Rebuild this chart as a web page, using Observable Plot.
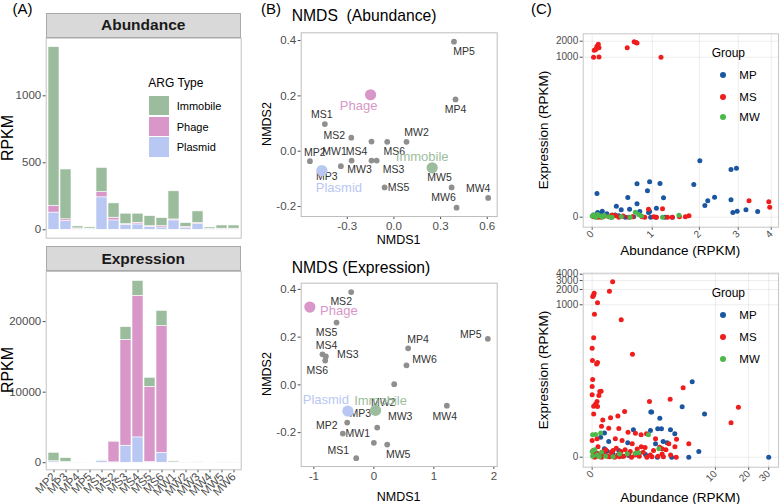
<!DOCTYPE html>
<html>
<head>
<meta charset="utf-8">
<script src="https://cdn.jsdelivr.net/npm/d3@7"></script>
<script src="https://cdn.jsdelivr.net/npm/@observablehq/plot@0.6"></script>
<style>
  body { margin: 0; background: #fff; }
  #fig { position: relative; width: 779px; height: 504px; overflow: hidden; background: #fff;
         font-family: "Liberation Sans", Arial, sans-serif; color: #000; }
  .abs { position: absolute; }
  .tag { font-size: 15px; }
  .strip { background: #d9d9d9; border: 1px solid #a9a9a9; box-sizing: border-box; font-weight: bold;
           font-size: 15.5px; display: flex; align-items: center; justify-content: center; color: #1a1a1a; }
  .vlabel { transform: translate(-50%, -50%) rotate(-90deg); white-space: nowrap; }
  .clabel { transform: translate(-50%, -50%); white-space: nowrap; }
  .llabel { transform: translate(0, -50%); white-space: pre; }
  .key { position: absolute; }
  .dotkey { position: absolute; width: 6px; height: 6px; border-radius: 50%; transform: translate(-50%, -50%); }
</style>
</head>
<body>
<div id="fig"></div>
<script>
// ---------- (A) ARG abundance / expression per sample ----------
const samples = ["MP2","MP3","MP4","MP5","MS1","MS2","MS3","MS4","MS5","MS6","MW1","MW2","MW3","MW4","MW5","MW6"];
const argTypes = ["Immobile","Phage","Plasmid"];
const argColors = ["#9cbd9d","#d896c9","#b9c7f3"];

const abundPlasmid  = [128, 65, 5, 3, 242, 70, 37, 40, 22, 17, 70, 12, 42, 3, 5, 5];
const abundPhage    = [50, 13, 5, 5, 40, 20, 5, 12, 5, 10, 7, 8, 8, 2, 3, 3];
const abundImmobile = [1185, 372, 15, 10, 180, 107, 78, 68, 75, 60, 210, 30, 87, 12, 24, 24];

const exprPlasmid  = [190, 100, 10, 5, 250, 50, 2410, 3590, 100, 1415, 30, 5, 20, 5, 15, 5];
const exprPhage    = [20, 10, 0, 0, 10, 2950, 15010, 20060, 10660, 17935, 5, 0, 5, 0, 5, 0];
const exprImmobile = [1205, 550, 20, 10, 80, 20, 1790, 2120, 1280, 2170, 155, 20, 75, 10, 60, 20];

// ---------- (B) NMDS ordinations ----------
const abundNmds1 = [-0.540, -0.341, 0.396, 0.386, -0.444, -0.274, -0.111, -0.144, -0.060, -0.043, -0.272, 0.081, -0.144, 0.606, 0.371, 0.403];
const abundNmds2 = [-0.036, -0.054, 0.187, 0.396, 0.098, 0.049, -0.034, 0.035, -0.131, 0.034, -0.034, 0.034, -0.034, -0.169, -0.131, -0.204];
const exprNmds1  = [-0.517, -0.444, 0.572, 1.900, -0.294, -0.378, -0.800, -0.856, -0.622, -0.811, 0.000, 0.339, 0.056, 1.217, 0.222, 0.544];
const exprNmds2  = [-0.204, -0.158, 0.153, 0.193, -0.307, 0.389, 0.119, 0.128, 0.261, 0.102, -0.243, 0.003, -0.179, -0.087, -0.250, 0.082];

const centroidAbund1 = [0.246, -0.150, -0.463];   // Immobile, Phage, Plasmid
const centroidAbund2 = [-0.060, 0.204, -0.070];
const centroidExpr1  = [0.028, -1.067, -0.433];
const centroidExpr2  = [-0.107, 0.326, -0.110];

// label nudges in pixels (dx, dy), like a repel layout
const abundNudge = {MP2:[5,-9], MP3:[-14,10], MP4:[0,10], MP5:[10,10], MS1:[-3,-9], MS2:[-17,-2], MS3:[17,9], MS4:[-15,10],
  MS5:[14,0], MS6:[7,10], MW1:[-17,-9], MW2:[10,-9], MW3:[-12,9], MW4:[-10,-9], MW5:[-12,-10], MW6:[-13,-10]};
const exprNudge = {MP2:[-16,-8], MP3:[13,-9], MP4:[10,-9], MP5:[-17,-4], MS1:[-18,-8], MS2:[-10,10], MS3:[22,-2], MS4:[4,-9],
  MS5:[-10,10], MS6:[-8,10], MW1:[-16,-9], MW2:[-11,18], MW3:[23,-11], MW4:[-2,11], MW5:[11,10], MW6:[18,-6]};
const abundCentroidNudge = {Immobile:[-10,-11], Phage:[-12,11], Plasmid:[17,17]};
const exprCentroidNudge  = {Immobile:[5,-10], Phage:[29,4], Plasmid:[-22,-11]};

// ---------- (C) per-gene abundance vs expression (RPKM) ----------
const groups = ["MP","MS","MW"];
const groupColors = ["#1b56a0","#f01d1d","#4cb84a"];

const geneMPsub = [[0.07,1.79],[0.72,3.24],[0.95,3.62],[1.15,3.29],[0.91,2.13],[0.56,1.34],[1.22,1.31],[0.72,0.78],[0.37,0.61],
  [1.87,3.1],[2.01,10.4],[2.13,0.66],[2.2,1.03],[2.37,1.37],[2.8,6.85],[2.95,7.3],[2.8,1.12],[2.85,0.22],[2.97,0.3],[3.22,0.38],
  [3.57,0.28],[0.45,0.38],[0.59,0.41],[0.77,0.28],[0.95,0.28],[1.08,0.48],[0.15,0.3],[0.08,0.22],[0.22,0.16],[0.41,0.06],
  [0.52,0],[0.66,0.02],[0.29,0],[0.05,0.06],[0.97,0],[1.07,0],[1.25,0],[1.4,0],[0.12,0.17],[0.93,0.22],[0.02,0.1],[0.35,0.1]];
const geneMSsub = [[0.02,1000],[0.1,1010],[0.05,1400],[0.07,1600],[0.09,1750],[0.1,1500],[0.03,1350],[0.06,1450],[0.55,1500],
  [0.67,1950],[0.7,1900],[0.72,1850],[1.17,1000],[1.2,0.44],[0.93,0.41],[3.31,1.03],[3.92,0.95],[3.95,0.54],[1.68,0.02],
  [1.76,0.06],[0.12,0],[0.17,0.03],[0.36,0.07],[0.41,0],[0.64,0.02],[0.81,0.02],[0.86,0],[1.03,0.02],[1.08,0],[1.3,0],
  [1.4,0],[1.55,0.02],[0.02,0.02],[0.08,0],[0.25,0.02],[0.3,0.1],[0.48,0.05],[0.58,0]];
const geneMWsub = [[0.0,0.05],[0.02,0.1],[0.05,0],[0.08,0.12],[0.12,0.05],[0.18,0.08],[0.25,0.02],[0.3,0],[0.69,0.24],
  [0.75,0.12],[0.8,0.05],[1.2,0],[1.54,0.09],[0.45,0.03],[0.6,0],[0.04,0.03],[0.15,0]];

const geneMPall = [[6.0,29.5],[7.9,6.1],[4.76,8.8],[2.13,6.8],[2.18,6.8],[2.73,4.86],[2.58,2.62],[2.85,2.62],[3.59,2.46],
  [3.99,1.89],[6.96,0.29],[30,0],[3.7,0],[5.55,0],[2.56,0],[2.98,1.04],[3.3,0.92],[2.11,2.36],[1.23,2.46],[1.0,0.92],
  [0.38,1.04],[0.27,2.0],[0.18,1.48],[0.27,0.46],[0.34,0.31],[0.68,0.35],[1.04,0.08],[0.18,0.1],[0.07,0.22],[1.82,0.13],
  [2.43,0.84],[0.5,0.15],[0.8,0.05],[1.5,0.2]];
const geneMSall = [[0.49,2837],[0.40,1852],[0.04,1690],[0.012,1455],[0.03,1550],[0.11,1094],[0.046,652],[0.76,506],[0.03,223],
  [0.0,139],[1.19,105],[0.006,79],[0.11,72],[0.09,67],[0.01,33],[0.0,23.7],[0.19,18.9],[0.14,15.4],[4.87,22.2],[16.2,8.6],
  [13.9,3.75],[3.56,12.9],[2.05,11.5],[5.55,0.84],[4.13,0],[4.16,1.26],[3.44,0.84],[0.16,18.6],[0.0,15.9],[0.1,11.5],
  [0.07,10.2],[0.03,9.1],[0.11,9.0],[0.03,6.1],[0.23,4.4],[0.43,4.97],[0.65,5.5],[0.88,6.9],[0.2,3.07],[0.38,2.72],
  [0.68,2.67],[1.01,2.1],[1.32,1.97],[1.59,1.76],[1.88,1.89],[0.0,1.13],[0.1,1.3],[0.57,1.3],[0.79,1.13],[1.18,0.84],
  [2.43,1.3],[2.71,0.57],[2.9,0.46],[0.02,0.1],[0.05,0],[0.1,0.2],[0.15,0.05],[0.2,0],[0.27,0.15],[0.35,0.05],[0.45,0.25],
  [0.55,0],[0.65,0.1],[0.75,0.3],[0.85,0.05],[1.0,0.15],[1.15,0],[1.3,0.1],[1.5,0.05],[1.7,0.25],[1.9,0],[2.1,0.1],
  [2.3,0.35],[2.6,0.05],[2.9,0.15],[3.2,0.4],[3.6,0.1],[4.0,0.6],[0.3,0.4],[0.6,0.5],[0.9,0.4],[1.4,0.45],[0.12,0.6],
  [0.02,0.35],[0.4,0.02],[0.7,0.02],[1.1,0.3],[1.8,0.55],[2.2,0.02],[0.25,0.3],[0.5,0.35],[1.6,0.6],[3.0,0.02]];
const geneMWall = [[0.01,1.76],[0.07,1.8],[0.18,2.0],[1.99,1.76],[0.98,0.17],[1.32,0.2],[1.47,0.22],[0.01,0.05],[0.0,0.3],
  [0.1,0.1],[0.3,0.05],[0.5,0.02],[0.2,0.25],[0.05,0.4],[2.66,0.46],[0.7,0.15],[0.15,0.02]];

// ---------- helpers ----------
const fig = document.getElementById("fig");
function put(node, left, top) {
  const holder = document.createElement("div");
  holder.className = "abs";
  holder.style.left = left + "px";
  holder.style.top = top + "px";
  holder.appendChild(node);
  fig.appendChild(holder);
  return holder;
}
function text(str, cls, left, top, css = {}) {
  const el = document.createElement("div");
  el.className = "abs " + cls;
  el.textContent = str;
  el.style.left = left + "px";
  el.style.top = top + "px";
  Object.assign(el.style, css);
  fig.appendChild(el);
  return el;
}
const baseStyle = {fontFamily: "Liberation Sans, Arial, sans-serif", fontSize: "11.5px", color: "#4d4d4d",
                   background: "transparent", overflow: "visible"};
const plain = d => String(d);
const oneDec = d => d.toFixed(1);

// ---------- (A) stacked bars ----------
function stackRows(pl, ph, im) {
  return samples.flatMap((s, i) => [
    {sample: s, type: "Plasmid", value: pl[i]},
    {sample: s, type: "Phage", value: ph[i]},
    {sample: s, type: "Immobile", value: im[i]}
  ]);
}
function barPanel(rows, yDomain, yTicks, showX, size, margins) {
  return Plot.plot({
    width: size[0], height: size[1],
    marginLeft: margins[0], marginRight: margins[1], marginTop: margins[2], marginBottom: margins[3],
    style: baseStyle,
    x: {type: "band", domain: samples, paddingInner: 0.1, paddingOuter: 0.15, label: null,
        axis: showX ? "bottom" : null, tickRotate: -45, tickSize: 3, tickPadding: 2},
    y: {domain: yDomain, ticks: yTicks, tickFormat: plain, label: null, tickSize: 3, tickPadding: 2},
    color: {domain: argTypes, range: argColors},
    marks: [
      Plot.barY(rows, {x: "sample", y: "value", fill: "type", order: ["Plasmid","Phage","Immobile"],
                       stroke: "white", strokeWidth: 0.6, insetLeft: 0, insetRight: 0}),
      Plot.frame({stroke: "#c2c2c2"})
    ]
  });
}
put(barPanel(stackRows(abundPlasmid, abundPhage, abundImmobile), [-63, 1430], [0, 500, 1000], false,
             [245, 245], [45.7, 4.3, 37.7, 7.3]), 0, 0);
put(barPanel(stackRows(exprPlasmid, exprPhage, exprImmobile), [-1000, 27100], [0, 10000, 20000], true,
             [245, 259], [45.7, 4.3, 26, 34.7]), 0, 245);

text("(A)", "tag", 12.5, 0);
text("Abundance", "strip", 45.7, 12.7, {width: "195px", height: "25px"});
text("Expression", "strip", 45.7, 246, {width: "195px", height: "25px"});
text("RPKM", "vlabel", 7.5, 137.7, {fontSize: "16px"});
text("RPKM", "vlabel", 7.5, 370, {fontSize: "16px"});

// legend for ARG type
text("ARG Type", "llabel", 148.3, 82.7, {fontSize: "12px"});
argTypes.forEach((t, i) => {
  const tops = [96, 116.7, 137.3];
  const k = document.createElement("div");
  k.className = "key";
  Object.assign(k.style, {left: "149.3px", top: tops[i] + "px", width: "19.4px", height: "19.4px", background: argColors[i]});
  fig.appendChild(k);
  text(t, "llabel", 176.7, tops[i] + 10, {fontSize: "11px"});
});

// ---------- (B) NMDS panels ----------
function nmdsPanel(n1, n2, cen1, cen2, nudge, cNudge, xDomain, xTicks, yDomain, size, margins) {
  const pts = samples.map((s, i) => ({sample: s, n1: n1[i], n2: n2[i]}));
  const cens = argTypes.map((t, i) => ({type: t, n1: cen1[i], n2: cen2[i], color: argColors[i]}));
  return Plot.plot({
    width: size[0], height: size[1],
    marginLeft: margins[0], marginRight: margins[1], marginTop: margins[2], marginBottom: margins[3],
    style: baseStyle,
    x: {domain: xDomain, ticks: xTicks, tickFormat: xTicks[0] === -1 ? plain : oneDec, label: null, tickSize: 3, tickPadding: 2},
    y: {domain: yDomain, ticks: [-0.2, 0, 0.2, 0.4], tickFormat: oneDec, label: null, tickSize: 3, tickPadding: 2},
    marks: [
      Plot.frame({stroke: "#bdbdbd"}),
      Plot.dot(pts, {x: "n1", y: "n2", r: 2.9, fill: "#8f8f8f"}),
      ...pts.map(p => Plot.text([p], {x: "n1", y: "n2", text: "sample", dx: nudge[p.sample][0], dy: nudge[p.sample][1],
                                       fontSize: 10.5, fill: "#333"})),
      Plot.dot(cens, {x: "n1", y: "n2", r: 5.6, fill: "color"}),
      ...cens.map(c => Plot.text([c], {x: "n1", y: "n2", text: "type", dx: cNudge[c.type][0], dy: cNudge[c.type][1],
                                        fontSize: 13, fill: c.color}))
    ]
  });
}
put(nmdsPanel(abundNmds1, abundNmds2, centroidAbund1, centroidAbund2, abundNudge, abundCentroidNudge,
              [-0.596, 0.664], [-0.3, 0, 0.3, 0.6], [-0.236, 0.428], [250, 250], [45.7, 8.3, 32.3, 34]), 255, 0);
put(nmdsPanel(exprNmds1, exprNmds2, centroidExpr1, centroidExpr2, exprNudge, exprCentroidNudge,
              [-1.211, 2.056], [-1, 0, 1, 2], [-0.342, 0.426], [250, 254], [45.7, 8.3, 32.7, 38]), 255, 250);

text("(B)", "tag", 261, 0);
text("NMDS  (Abundance)", "llabel", 291.7, 16, {fontSize: "15.7px"});
text("NMDS (Expression)", "llabel", 291.7, 268.3, {fontSize: "15.7px"});
text("NMDS2", "vlabel", 267, 124, {fontSize: "12.5px"});
text("NMDS2", "vlabel", 267, 374, {fontSize: "12.5px"});
text("NMDS1", "clabel", 398.7, 240, {fontSize: "12.5px"});
text("NMDS1", "clabel", 398.7, 496.7, {fontSize: "12.5px"});

// ---------- (C) scatter panels ----------
function geneRows(mp, ms, mw) {
  return [mp, ms, mw].flatMap((arr, g) => arr.map(([a, e]) => ({group: groups[g], abundance: a, expression: e})));
}
function scatterPanel(rows, xOpts, yOpts, size, margins) {
  return Plot.plot({
    width: size[0], height: size[1],
    marginLeft: margins[0], marginRight: margins[1], marginTop: margins[2], marginBottom: margins[3],
    style: {...baseStyle, fontSize: "10px"},
    x: {type: "symlog", grid: true, tickFormat: plain, label: null, tickSize: 3, tickPadding: 2, tickRotate: -45, ...xOpts},
    y: {type: "symlog", grid: true, tickFormat: plain, label: null, tickSize: 3, tickPadding: 2, ...yOpts},
    color: {domain: groups, range: groupColors},
    marks: [
      Plot.dot(rows, {x: "abundance", y: "expression", fill: "group", r: 2.5}),
      Plot.frame({stroke: "#c7c7c7"})
    ]
  });
}
put(scatterPanel(geneRows(geneMPsub, geneMSsub, geneMWsub),
                 {constant: 3.2, domain: [-0.133, 4.24], ticks: [0, 1, 2, 3, 4]},
                 {constant: 1, domain: [-0.54, 2754], ticks: [0, 1000, 2000]},
                 [249, 262], [52.7, 1, 33.3, 35.3]), 530, 0);
put(scatterPanel(geneRows(geneMPall, geneMSall, geneMWall),
                 {constant: 1, domain: [-0.19, 36.5], ticks: [0, 10, 20, 30]},
                 {constant: 1, domain: [-0.573, 4188], ticks: [0, 1000, 2000, 3000, 4000]},
                 [249, 242], [52.7, 1, 10.7, 37.3]), 530, 262);

text("(C)", "tag", 531, 0);
text("Expression (RPKM)", "vlabel", 543, 130, {fontSize: "13.5px"});
text("Expression (RPKM)", "vlabel", 543, 369.7, {fontSize: "13.5px"});
text("Abundance (RPKM)", "clabel", 680.3, 250, {fontSize: "13.5px"});
text("Abundance (RPKM)", "clabel", 680.3, 496.7, {fontSize: "13.5px"});

// group legends
[[52.7, [75, 96.7, 117.3]], [293.3, [315.3, 337.3, 358.7]]].forEach(([ty, ys]) => {
  text("Group", "llabel", 711.7, ty, {fontSize: "12px"});
  groups.forEach((g, i) => {
    const d = document.createElement("div");
    d.className = "dotkey";
    Object.assign(d.style, {left: "722.7px", top: ys[i] + "px", background: groupColors[i]});
    fig.appendChild(d);
    text(g, "llabel", 739.3, ys[i], {fontSize: "11.5px"});
  });
});
</script>
</body>
</html>
